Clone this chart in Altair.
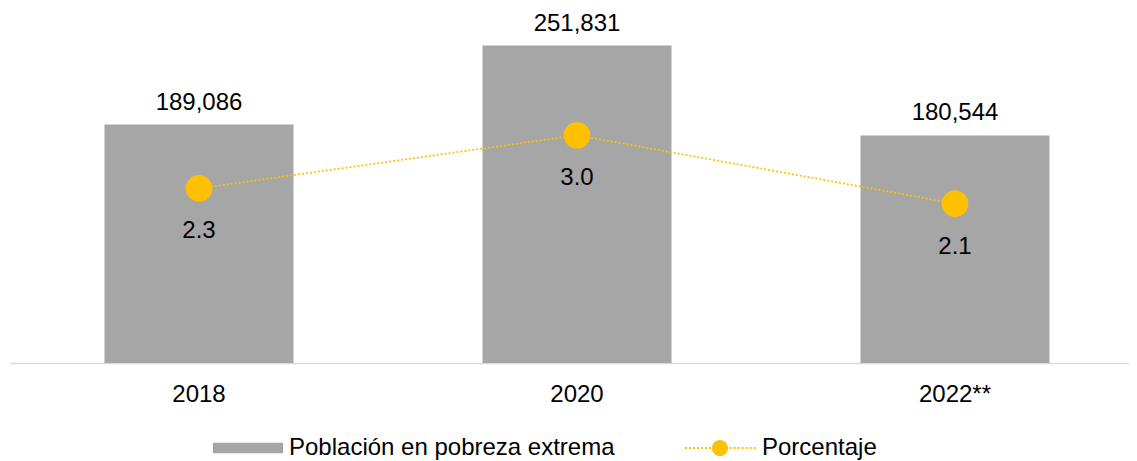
import altair as alt
import pandas as pd

years = ["2018", "2020", "2022**"]
poblacion = [189086, 251831, 180544]
porcentaje = [2.3, 3.0, 2.1]
serie_barra = "Población en pobreza extrema"
serie_linea = "Porcentaje"

df = pd.DataFrame({
    "anio": years,
    "poblacion": poblacion,
    "porcentaje": porcentaje,
    "s1": [serie_barra] * 3,
    "s2": [serie_linea] * 3,
})

FONT = "Liberation Sans"
FS = 24


def dotted_marker_path():
    # legend glyph: dotted line with a filled circle in the middle (unit coords, 1 unit = 35px)
    parts = []
    dot, period, half = 0.06, 0.115, 0.026
    xv = -1.0
    while xv < -0.25:
        parts.append(f"M{xv:.3f},{-half}h{dot}v{2 * half}h{-dot}Z")
        xv += period
    xv = 0.27
    while xv < 1.0:
        parts.append(f"M{xv:.3f},{-half}h{dot}v{2 * half}h{-dot}Z")
        xv += period
    r = 0.23
    parts.append(f"M{-r},0A{r},{r},0,1,0,{r},0A{r},{r},0,1,0,{-r},0Z")
    return "".join(parts)


x = alt.X(
    "anio:N",
    sort=years,
    scale=alt.Scale(paddingInner=0.5, paddingOuter=0.25),
    axis=alt.Axis(
        title=None, labelAngle=0, ticks=False, tickSize=0, labelPadding=19,
        labelFontSize=FS, labelFont=FONT, labelColor="#000000",
        domainColor="#d9d9d9", domainWidth=1.5, grid=False,
    ),
)

y_bar = alt.Y("poblacion:Q", scale=alt.Scale(domain=[0, 280000]), axis=None)
y_line = alt.Y("porcentaje:Q", scale=alt.Scale(domain=[0, 4.65]), axis=None)

base = alt.Chart(df)

bars = base.mark_bar().encode(
    x=x,
    y=y_bar,
    color=alt.Color(
        "s1:N",
        scale=alt.Scale(domain=[serie_barra], range=["#a6a6a6"]),
        legend=alt.Legend(
            title=None, orient="none", legendX=203, legendY=403,
            symbolType="M-1,-0.15H1V0.15H-1Z", symbolSize=4900,
            symbolStrokeWidth=0, symbolFillColor="#a6a6a6",
            labelFontSize=FS, labelFont=FONT, labelColor="#000000",
            labelOffset=6, labelLimit=600,
        ),
    ),
)

bar_text = base.mark_text(
    dy=-15, baseline="alphabetic", fontSize=FS, font=FONT, color="#000000"
).encode(x=x, y=y_bar, text=alt.Text("poblacion:Q", format=","))

bar_layer = alt.layer(bars, bar_text)

line = base.mark_line(
    strokeDash=[2, 2], strokeWidth=1.75
).encode(
    x=x,
    y=y_line,
    color=alt.Color(
        "s2:N",
        scale=alt.Scale(domain=[serie_linea], range=["#ffc000"]),
        legend=alt.Legend(
            title=None, orient="none", legendX=675, legendY=403,
            symbolType=dotted_marker_path(),
            symbolSize=4900, symbolStrokeWidth=0,
            symbolFillColor="#ffc000", symbolStrokeColor="#ffc000",
            labelFontSize=FS, labelFont=FONT, labelColor="#000000",
            labelOffset=7, labelLimit=600,
        ),
    ),
)

points = base.mark_point(filled=True, size=710, opacity=1, color="#ffc000").encode(
    x=x, y=y_line
)

pt_text = base.mark_text(
    dy=50, baseline="alphabetic", fontSize=FS, font=FONT, color="#000000"
).encode(x=x, y=y_line, text=alt.Text("porcentaje:Q", format=".1f"))

line_layer = alt.layer(line, points, pt_text)

chart = alt.layer(bar_layer, line_layer).resolve_scale(
    y="independent", color="independent"
).properties(
    width=1134,
    height=353,
    autosize=alt.AutoSizeParams(type="none"),
    padding={"left": 2, "top": 2, "right": -15, "bottom": 100},
).configure_view(strokeWidth=0, stroke="transparent")

chart.save("out.html", embed_options={"renderer": "svg", "actions": False})
